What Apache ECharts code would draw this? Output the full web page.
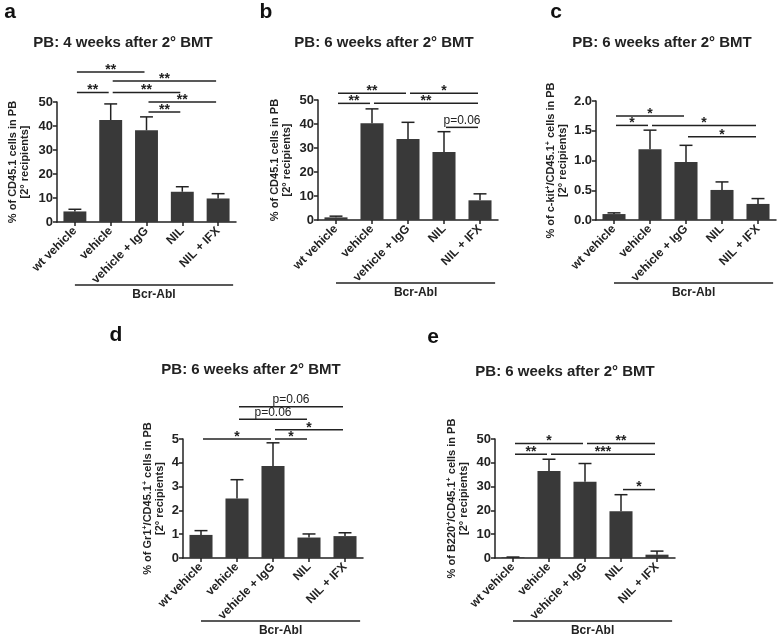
<!DOCTYPE html>
<html>
<head>
<meta charset="utf-8">
<script src="https://cdn.jsdelivr.net/npm/echarts@6/dist/echarts.min.js"></script>
<style>
html,body{margin:0;padding:0;background:#fff;}
#chart{width:778px;height:637px;}
</style>
</head>
<body>
<div id="chart"></div>
<script>
// ---------------- data ----------------
const categories = ['wt vehicle', 'vehicle', 'vehicle + IgG', 'NIL', 'NIL + IFX'];
const groupLabel = 'Bcr-Abl';
const panelLetters = ['a', 'b', 'c', 'd', 'e'];
const panelTitles = ['PB: 4 weeks after 2° BMT', 'PB: 6 weeks after 2° BMT', 'PB: 6 weeks after 2° BMT',
                     'PB: 6 weeks after 2° BMT', 'PB: 6 weeks after 2° BMT'];
const yNames = [
  '% of CD45.1 cells in PB\n[2° recipients]',
  '% of CD45.1 cells in PB\n[2° recipients]',
  '% of c-kit{sup|+}/CD45.1{sup|+} cells in PB\n[2° recipients]',
  '% of Gr1{sup|+}/CD45.1{sup|+} cells in PB\n[2° recipients]',
  '% of B220{sup|+}/CD45.1{sup|+} cells in PB\n[2° recipients]'
];

// panel a
const aMean = [4.4, 42.5, 38.2, 12.6, 9.8];
const aErr  = [0.9, 6.7, 5.6, 2.1, 2.0];
const aTicks = [0, 50, 10];
const aBrackets = [[0, 2, 62.5, '**'], [1, 4, 58.7, '**'], [0, 1, 54, '**'], [1, 3, 54, '**'], [2, 4, 50, '**'], [2, 3, 45.8, '**']];
// panel b
const bMean = [1.1, 40.3, 33.7, 28.3, 8.2];
const bErr  = [0.5, 6.0, 7.0, 8.5, 2.7];
const bTicks = [0, 50, 10];
const bBrackets = [[0, 2, 52.8, '**'], [2, 4, 52.8, '*'], [0, 1, 48.6, '**'], [1, 4, 48.6, '**'], [3, 4, 38.6, 'p=0.06']];
// panel c
const cMean = [0.10, 1.19, 0.975, 0.505, 0.27];
const cErr  = [0.02, 0.32, 0.28, 0.135, 0.09];
const cTicks = [0, 2, 0.5];
const cBrackets = [[0, 2, 1.75, '*'], [0, 1, 1.59, '*'], [1, 4, 1.59, '*'], [2, 4, 1.40, '*']];
// panel d
const dMean = [0.97, 2.5, 3.87, 0.86, 0.92];
const dErr  = [0.18, 0.79, 0.97, 0.15, 0.14];
const dTicks = [0, 5, 1];
const dBrackets = [[0, 2, 5.0, '*'], [2, 3, 5.0, '*'], [2, 4, 5.39, '*'], [1, 3, 5.83, 'p=0.06'], [1, 4, 6.36, 'p=0.06']];
// panel e
const eMean = [0.3, 36.6, 32.0, 19.6, 1.4];
const eErr  = [0.1, 4.9, 7.7, 7.0, 1.5];
const eTicks = [0, 50, 10];
const eBrackets = [[0, 2, 48.1, '*'], [2, 4, 48.1, '**'], [0, 1, 43.6, '**'], [1, 4, 43.6, '***'], [3, 4, 28.75, '*']];

// ---------------- layout / style ----------------
const FONT = "'Liberation Sans', Arial, Helvetica, sans-serif";
const INK = '#222';
const BAR = '#393939';

const panels = [
  { mean: aMean, err: aErr, ticks: aTicks, brackets: aBrackets, dec: 0, grid: { left: 57, top: 102, width: 179, height: 120 }, nameGap: 26, titleXY: [123, 43], letterXY: [10, 12] },
  { mean: bMean, err: bErr, ticks: bTicks, brackets: bBrackets, dec: 0, grid: { left: 318, top: 100, width: 180, height: 120 }, nameGap: 25, titleXY: [384, 43], letterXY: [266, 12] },
  { mean: cMean, err: cErr, ticks: cTicks, brackets: cBrackets, dec: 1, grid: { left: 596, top: 101, width: 180, height: 119 }, nameGap: 27, titleXY: [662, 43], letterXY: [556, 12] },
  { mean: dMean, err: dErr, ticks: dTicks, brackets: dBrackets, dec: 0, grid: { left: 183, top: 439, width: 180, height: 119 }, nameGap: 17, titleXY: [251, 370], letterXY: [116, 335] },
  { mean: eMean, err: eErr, ticks: eTicks, brackets: eBrackets, dec: 0, grid: { left: 495, top: 439, width: 180, height: 119 }, nameGap: 25, titleXY: [565, 372], letterXY: [433, 337] }
];

const grids = [], xAxes = [], yAxes = [], series = [], graphics = [];

panels.forEach((p, k) => {
  grids.push(Object.assign({}, p.grid));
  xAxes.push({
    gridIndex: k, type: 'category', data: categories,
    axisLine: { show: true, lineStyle: { color: INK, width: 1.5 } },
    axisTick: { show: true, alignWithLabel: true, length: 4, lineStyle: { color: INK, width: 1.5 } },
    axisLabel: { rotate: 45, interval: 0, margin: 7, fontFamily: FONT, fontSize: 12, fontWeight: 'bold', color: INK },
    splitLine: { show: false }
  });
  yAxes.push({
    gridIndex: k, type: 'value', min: p.ticks[0], max: p.ticks[1], interval: p.ticks[2],
    axisLine: { show: true, lineStyle: { color: INK, width: 1.5 } },
    axisTick: { show: true, length: 4, lineStyle: { color: INK, width: 1.5 } },
    splitLine: { show: false },
    axisLabel: { fontFamily: FONT, fontSize: 13, fontWeight: 'bold', color: INK, margin: 4,
                 formatter: v => v.toFixed(p.dec) },
    name: yNames[k], nameLocation: 'middle', nameRotate: 90, nameGap: p.nameGap,
    nameTextStyle: { fontFamily: FONT, fontSize: 11, fontWeight: 'bold', color: INK, lineHeight: 12, align: 'center',
      rich: { sup: { fontFamily: FONT, fontSize: 7, fontWeight: 'bold', color: INK, verticalAlign: 'top', lineHeight: 12 } } }
  });

  // bars
  series.push({
    type: 'bar', xAxisIndex: k, yAxisIndex: k, data: p.mean, barWidth: '64%',
    itemStyle: { color: BAR }, silent: true, animation: false
  });
  // error bars (mean + SEM, upper whisker)
  series.push({
    type: 'custom', xAxisIndex: k, yAxisIndex: k, animation: false, silent: true, z: 3,
    encode: { x: 0, y: [1, 2] },
    data: p.mean.map((m, i) => [i, m, m + p.err[i]]),
    renderItem: (params, api) => {
      const x = api.value(0);
      const p0 = api.coord([x, api.value(1)]);
      const p1 = api.coord([x, api.value(2)]);
      const w = api.size([1, 0])[0] * 0.18;
      const st = { stroke: INK, lineWidth: 1.5 };
      return { type: 'group', children: [
        { type: 'line', shape: { x1: p0[0], y1: p0[1], x2: p1[0], y2: p1[1] }, style: st },
        { type: 'line', shape: { x1: p1[0] - w, y1: p1[1], x2: p1[0] + w, y2: p1[1] }, style: st }
      ] };
    }
  });
  // significance brackets
  series.push({
    type: 'custom', xAxisIndex: k, yAxisIndex: k, animation: false, silent: true, clip: false, z: 4,
    encode: { x: [0, 1], y: 2 },
    data: p.brackets.map(b => [b[0], b[1], b[2]]),
    renderItem: (params, api) => {
      const b = p.brackets[params.dataIndex];
      const p1 = api.coord([api.value(0), api.value(2)]);
      const p2 = api.coord([api.value(1), api.value(2)]);
      const isP = b[3].indexOf('p') === 0;
      return { type: 'group', children: [
        { type: 'line', shape: { x1: p1[0] + 2, y1: p1[1], x2: p2[0] - 2, y2: p2[1] }, style: { stroke: INK, lineWidth: 1.5 } },
        { type: 'text', x: (p1[0] + p2[0]) / 2, y: p1[1] - (isP ? 6.5 : 2),
          style: { text: b[3], fill: INK, font: (isP ? 'normal 12px ' : 'bold 14px ') + FONT,
                   align: 'center', verticalAlign: 'middle', textAlign: 'center', textVerticalAlign: 'middle' } }
      ] };
    }
  });
  // group line: Bcr-Abl
  series.push({
    type: 'custom', xAxisIndex: k, yAxisIndex: k, animation: false, silent: true, clip: false,
    encode: { x: [0, 1] },
    data: [[0, categories.length - 1]],
    renderItem: (params, api) => {
      const q0 = api.coord([api.value(0), p.ticks[0]]);
      const q1 = api.coord([api.value(1), p.ticks[0]]);
      const band = api.size([1, 0])[0];
      const y = q0[1] + 63;
      const x2 = q1[0] + band * 0.42;
      return { type: 'group', children: [
        { type: 'line', shape: { x1: q0[0], y1: y, x2: x2, y2: y }, style: { stroke: INK, lineWidth: 1.3 } },
        { type: 'text', x: (q0[0] + x2) / 2, y: y + 10,
          style: { text: groupLabel, fill: INK, font: 'bold 12px ' + FONT, align: 'center', verticalAlign: 'middle',
                   textAlign: 'center', textVerticalAlign: 'middle' } }
      ] };
    }
  });

  graphics.push({ type: 'text', x: p.titleXY[0], y: p.titleXY[1], silent: true,
    style: { text: panelTitles[k], fill: INK, font: 'bold 15px ' + FONT, align: 'center', verticalAlign: 'middle',
             textAlign: 'center', textVerticalAlign: 'middle' } });
  graphics.push({ type: 'text', x: p.letterXY[0], y: p.letterXY[1], silent: true,
    style: { text: panelLetters[k], fill: '#111', font: 'bold 21px ' + FONT, align: 'center', verticalAlign: 'middle',
             textAlign: 'center', textVerticalAlign: 'middle' } });
});

const chart = echarts.init(document.getElementById('chart'), null, { renderer: 'canvas' });
chart.setOption({
  backgroundColor: '#fff',
  animation: false,
  grid: grids,
  xAxis: xAxes,
  yAxis: yAxes,
  series: series,
  graphic: { elements: graphics }
});
</script>
</body>
</html>
